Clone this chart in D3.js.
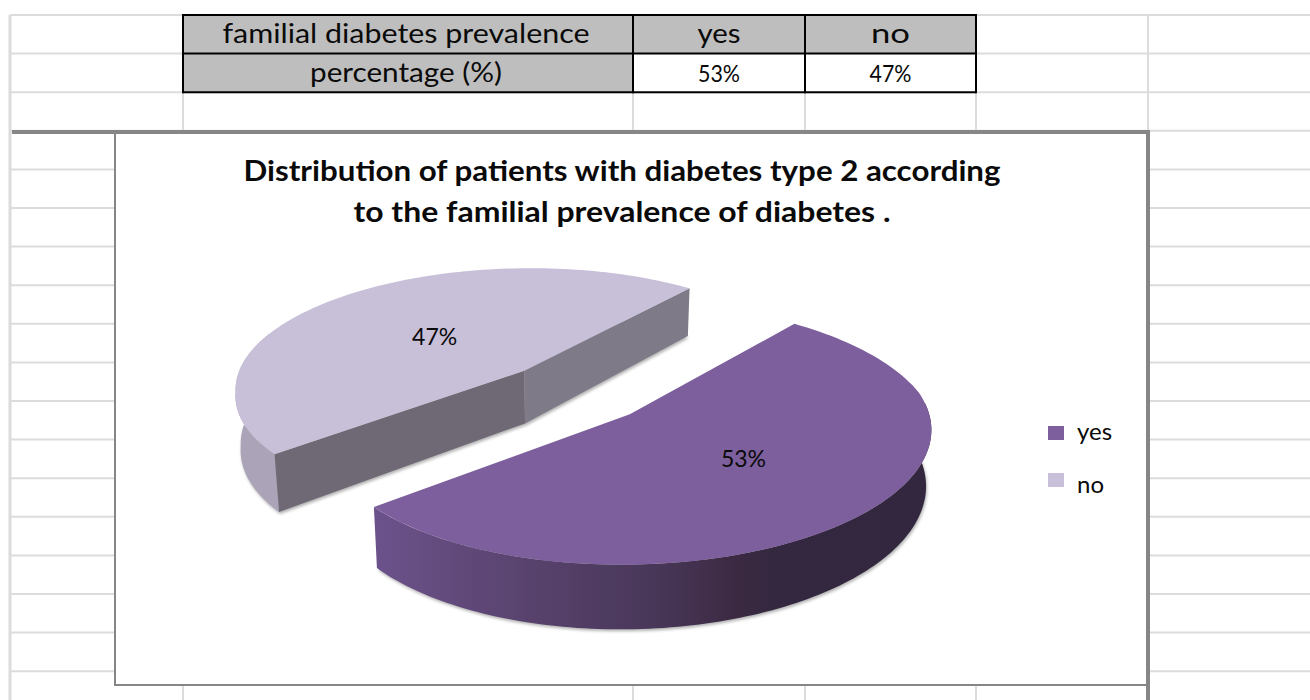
<!DOCTYPE html>
<html>
<head>
<meta charset="utf-8">
<script src="https://cdn.jsdelivr.net/npm/d3@7/dist/d3.min.js"></script>
<style>
  html, body { margin: 0; padding: 0; background: #fff; }
  svg { display: block; }
  text { font-family: Lato, "Open Sans", sans-serif; fill: #0a0a0a; }
</style>
</head>
<body>
<svg id="sheet" width="1310" height="700"></svg>
<script>
// Worksheet values
const categories = ["yes", "no"];
const shares = [53, 47];
const tableHeader = ["familial diabetes prevalence", "yes", "no"];
const tableRowLabel = "percentage (%)";
const titleLines = [
  "Distribution of patients with diabetes type 2 according",
  "to the familial prevalence of diabetes ."
];

const svg = d3.select("#sheet");

// Spreadsheet grid
const rowY = d3.scaleLinear().domain([0, 17]).range([15, 671.2]);
const rows = d3.range(18);
const colX = [10, 183, 633, 805, 976, 1148];
const gridColor = "#dcdcdc", frameColor = "#868686";

const grid = svg.append("g").attr("stroke", gridColor).attr("stroke-width", 2);
grid.selectAll("line.h").data(rows).join("line")
  .attr("x1", colX[0]).attr("x2", 1310)
  .attr("y1", rowY).attr("y2", rowY);
grid.selectAll("line.v").data(colX).join("line")
  .attr("x1", d => d).attr("x2", d => d)
  .attr("y1", rowY(0)).attr("y2", 700)
  .attr("stroke-width", (d, i) => i === 0 ? 3 : 2);

// Table above the chart
const table = svg.append("g");
const tableCols = [colX[1], colX[2], colX[3], colX[4]];
const tableRows = [rowY(0), rowY(1), rowY(2)];
const cellRows = [tableHeader, [tableRowLabel, ...shares.map(d => d + "%")]];
const labelWidths = [[367, 43, 39], [192, 42, 42]];

cellRows.forEach((cells, r) => {
  cells.forEach((label, c) => {
    const x0 = tableCols[c], x1 = tableCols[c + 1];
    table.append("rect")
      .attr("x", x0).attr("y", tableRows[r])
      .attr("width", x1 - x0).attr("height", tableRows[r + 1] - tableRows[r])
      .attr("fill", r === 0 || c === 0 ? "#bebebe" : "#fff");
    table.append("text")
      .attr("x", (x0 + x1) / 2 - (c === 0 ? 2 : 0))
      .attr("y", tableRows[r] + 28)
      .attr("text-anchor", "middle")
      .attr("font-size", r === 1 && c > 0 ? 24 : 26)
      .attr("textLength", labelWidths[r][c])
      .attr("lengthAdjust", "spacingAndGlyphs")
      .text(label);
  });
});
table.append("g").attr("stroke", "#000").attr("stroke-width", 2)
  .call(g => {
    tableRows.forEach(y => g.append("line")
      .attr("x1", tableCols[0]).attr("x2", tableCols[3]).attr("y1", y).attr("y2", y));
    tableCols.forEach(x => g.append("line")
      .attr("x1", x).attr("x2", x).attr("y1", tableRows[0] - 1).attr("y2", tableRows[2] + 1));
  });

// Chart frame
const frame = { left: 116, right: 1148, top: 132, bottom: 685 };
svg.append("rect")
  .attr("x", frame.left).attr("y", frame.top)
  .attr("width", frame.right - frame.left).attr("height", frame.bottom - frame.top)
  .attr("fill", "#fff");
svg.append("line").attr("x1", frame.left - 1).attr("x2", frame.left - 1)
  .attr("y1", frame.top).attr("y2", frame.bottom + 1)
  .attr("stroke", frameColor).attr("stroke-width", 2);
svg.append("line").attr("x1", frame.left - 2).attr("x2", frame.right)
  .attr("y1", frame.bottom).attr("y2", frame.bottom)
  .attr("stroke", frameColor).attr("stroke-width", 2);
svg.append("line").attr("x1", 12).attr("x2", frame.right + 2)
  .attr("y1", frame.top).attr("y2", frame.top)
  .attr("stroke", frameColor).attr("stroke-width", 4);
svg.append("line").attr("x1", frame.right).attr("x2", frame.right)
  .attr("y1", frame.top - 2).attr("y2", 700)
  .attr("stroke", frameColor).attr("stroke-width", 4);

// Title
svg.append("g").selectAll("text").data(titleLines).join("text")
  .attr("x", 622).attr("y", (d, i) => 181 + i * 41)
  .attr("text-anchor", "middle")
  .attr("font-size", 28).attr("font-weight", 700)
  .attr("textLength", (d, i) => [757, 537][i])
  .attr("lengthAdjust", "spacingAndGlyphs")
  .text(d => d);

// Exploded pie seen in perspective
const deg = Math.PI / 180;
const pie = d3.pie().sort(null).value(d => d)
  .startAngle(38.5 * deg).endAngle(398.5 * deg);
const slices = pie(shares);

const pivot = [577, 392], radii = [292, 122.4], tilt = 0.14, shear = 0.12;
const explode = 0.257, thickness = 54, shrink = 0.985;

// Plane point -> screen point; lower = true gives the underside of the disc.
// The front half leans to the left, as the camera sits slightly off-axis.
function project(u, v, lower) {
  const w = 1 - tilt * v;
  const y = radii[1] * v / w;
  const x = radii[0] * u / w - shear * Math.max(0, y);
  return lower
    ? [pivot[0] + x * shrink, pivot[1] + y + thickness / w]
    : [pivot[0] + x, pivot[1] + y];
}
function centerOf(s) {
  const mid = (s.startAngle + s.endAngle) / 2;
  return [explode * Math.sin(mid), -explode * Math.cos(mid)];
}
function rimPoint(s, a, lower) {
  const c = centerOf(s);
  return project(c[0] + Math.sin(a), c[1] - Math.cos(a), lower);
}
function rim(s, a0, a1, lower) {
  return d3.range(0, 121).map(i => rimPoint(s, a0 + (a1 - a0) * i / 120, lower));
}
const poly = d3.line();

const defs = svg.append("defs");
defs.append("filter").attr("id", "soft")
  .attr("x", "-10%").attr("y", "-10%").attr("width", "120%").attr("height", "120%")
  .append("feGaussianBlur").attr("stdDeviation", 1.8);

const sideFill = defs.append("linearGradient").attr("id", "yesSide")
  .attr("gradientUnits", "userSpaceOnUse").attr("x1", 374).attr("x2", 930).attr("y1", 0).attr("y2", 0);
const sideStops = [[0, "#6c528b"], [0.25, "#5a4470"], [0.5, "#493759"], [0.66, "#3b2942"], [0.72, "#33283f"], [1, "#32273e"]];
sideFill.selectAll("stop").data(sideStops).join("stop")
  .attr("offset", d => d[0]).attr("stop-color", d => d[1]);

const colors = { yes: "#7e5f9d", no: "#c8bfd9" };
const pieGroup = svg.append("g");

function sidePath(s, a0, a1) {
  return poly(rim(s, a0, a1, false).concat(rim(s, a0, a1, true).reverse())) + "Z";
}
function footprint(s) {
  const c = centerOf(s);
  return poly([project(c[0], c[1], true)].concat(rim(s, s.startAngle, s.endAngle, true))) + "Z";
}

// Soft shadow around the lower edge of both slices
slices.forEach(s => {
  pieGroup.append("path").attr("d", footprint(s))
    .attr("transform", "translate(1,2)")
    .attr("fill", "#555").attr("opacity", 0.45).attr("filter", "url(#soft)");
});

slices.forEach((s, i) => {
  const c = centerOf(s);
  const apexTop = project(c[0], c[1], false), apexLow = project(c[0], c[1], true);
  if (categories[i] === "no") {
    const start = rimPoint(s, s.startAngle, false), startLow = rimPoint(s, s.startAngle, true);
    const end = rimPoint(s, s.endAngle, false), endLow = rimPoint(s, s.endAngle, true);
    pieGroup.append("path")
      .attr("d", sidePath(s, s.startAngle, s.startAngle + 60 * deg))
      .attr("fill", "#aba3b8");
    pieGroup.append("path")
      .attr("d", poly([apexTop, start, startLow, apexLow]) + "Z")
      .attr("fill", "#6f6875");
    pieGroup.append("path")
      .attr("d", poly([apexTop, end, endLow, apexLow]) + "Z")
      .attr("fill", "#7f7a88");
  } else {
    pieGroup.append("path")
      .attr("d", sidePath(s, 85 * deg, s.endAngle))
      .attr("fill", "url(#yesSide)");
  }
  pieGroup.append("path")
    .attr("d", poly([apexTop].concat(rim(s, s.startAngle, s.endAngle, false))) + "Z")
    .attr("fill", colors[categories[i]]);
});

// Percentage labels on the slices
const labelOffsets = [[0.37, 0.33], [-0.335, -0.30]];
slices.forEach((s, i) => {
  const c = centerOf(s);
  const p = project(c[0] + labelOffsets[i][0], c[1] + labelOffsets[i][1], false);
  svg.append("text")
    .attr("x", p[0]).attr("y", p[1]).attr("dy", "0.35em")
    .attr("text-anchor", "middle").attr("font-size", 23)
    .text(shares[i] + "%");
});

// Legend
const legend = svg.append("g").selectAll("g").data(categories).join("g");
legend.append("rect")
  .attr("x", 1048).attr("y", (d, i) => 426 + i * 47)
  .attr("width", 16).attr("height", 14)
  .attr("fill", d => colors[d]);
legend.append("text")
  .attr("x", 1077).attr("y", (d, i) => 440 + i * 53)
  .attr("font-size", 24)
  .text(d => d);
</script>
</body>
</html>
